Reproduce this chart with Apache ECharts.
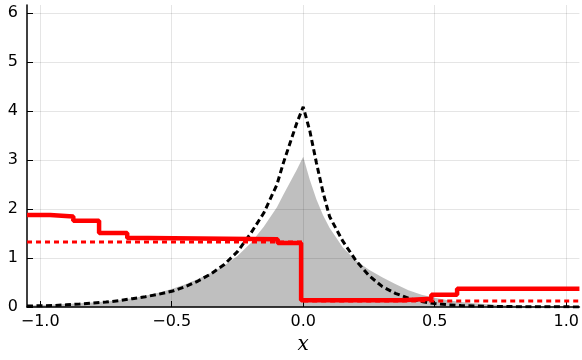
<!DOCTYPE html>
<html><head><meta charset="utf-8">
<script src="https://cdn.jsdelivr.net/npm/echarts@6/dist/echarts.min.js"></script>
<style>html,body{margin:0;padding:0;background:#fff}#c{width:582px;height:360px}</style>
</head><body><div id="c"></div>
<script>
const curveX = [-1.05,-1.0,-0.95,-0.9,-0.85,-0.8,-0.75,-0.7,-0.65,-0.6,-0.55,-0.5,-0.45,-0.4,-0.35,-0.3,-0.25,-0.2,-0.15,-0.1,-0.075,-0.05,-0.025,0,0.025,0.05,0.075,0.1,0.15,0.2,0.25,0.3,0.35,0.4,0.45,0.5,0.55,0.6,0.65,0.7,0.75,0.8,0.85,0.9,0.95,1.0,1.05];
const grayY = [0.03,0.04,0.05,0.06,0.075,0.09,0.11,0.14,0.18,0.23,0.29,0.37,0.46,0.57,0.70,0.85,1.04,1.30,1.64,2.04,2.30,2.55,2.8,3.07,2.6,2.2,1.88,1.62,1.22,0.95,0.76,0.61,0.47,0.34,0.25,0.19,0.14,0.10,0.075,0.055,0.04,0.03,0.022,0.016,0.012,0.009,0.007];
const dashY = [0.02,0.025,0.03,0.045,0.06,0.08,0.10,0.13,0.17,0.21,0.26,0.32,0.41,0.53,0.68,0.87,1.13,1.5,1.92,2.5,2.95,3.35,3.75,4.09,3.6,2.95,2.35,1.85,1.35,0.95,0.64,0.42,0.28,0.18,0.11,0.07,0.045,0.03,0.02,0.015,0.01,0.008,0.006,0.005,0.004,0.003,0.002];
const stepX = [-1.05,-0.962,-0.874,-0.776,-0.669,-0.59,-0.097,-0.008,0.375,0.487,0.585,1.05];
const stepY = [1.88,1.85,1.76,1.51,1.41,1.385,1.31,0.14,0.17,0.25,0.375,0.375];
const refX = [-1.05,0,null,0,1.05];
const refY = [1.33,1.33,null,0.125,0.125];
const xTicks = [-1.0,-0.5,0.0,0.5,1.0];
const yTicks = [0,1,2,3,4,5,6];

const zip = (a,b)=>a.map((v,i)=> (v===null? [null,null] : [v,b[i]]));
const fmtX = v => { const s = Math.abs(v).toFixed(1); return v < 0 ? '\u2212'+s : s; };
const font = 'DejaVu Sans';
const chart = echarts.init(document.getElementById('c'), null, {renderer:'canvas'});
chart.setOption({
  animation:false,
  backgroundColor:'#fff',
  grid:{left:27,right:1,top:5,bottom:51.5,containLabel:false},
  xAxis:{type:'value',min:-1.05,max:1.05,
    name:'x',nameLocation:'middle',nameGap:28,
    nameTextStyle:{fontFamily:'DejaVu Serif',fontStyle:'italic',fontSize:20,color:'#000'},
    axisLine:{show:true,onZero:false,lineStyle:{color:'#000',width:1.5}},
    axisTick:{show:true,inside:true,length:6,customValues:xTicks,lineStyle:{color:'#000',width:1}},
    axisLabel:{customValues:xTicks,formatter:fmtX,fontFamily:font,fontSize:16,color:'#000',margin:7},
    splitLine:{show:true,lineStyle:{color:'rgba(0,0,0,0.1)',width:1}}},
  yAxis:{type:'value',min:0,max:6.17,
    axisLine:{show:true,onZero:false,lineStyle:{color:'#000',width:1.5}},
    axisTick:{show:true,inside:true,length:6,customValues:yTicks,lineStyle:{color:'#000',width:1}},
    axisLabel:{customValues:yTicks,fontFamily:font,fontSize:16,color:'#000',margin:9},
    splitLine:{show:true,lineStyle:{color:'rgba(0,0,0,0.1)',width:1}}},
  series:[
    {type:'line',data:zip(curveX,grayY),symbol:'none',lineStyle:{width:0},areaStyle:{color:'rgba(0,0,0,0.25)',opacity:1},z:1},
    {type:'line',data:zip(curveX,dashY),symbol:'none',lineStyle:{color:'#000',width:3,type:[6,3.5]},z:2},
    {type:'line',data:zip(stepX,stepY),step:'end',symbol:'none',lineStyle:{color:'#ff0000',width:4.5},z:3},
    {type:'line',data:zip(refX,refY),connectNulls:false,symbol:'none',lineStyle:{color:'#ff0000',width:3,type:[5,4]},z:4}
  ]
});
</script></body></html>
